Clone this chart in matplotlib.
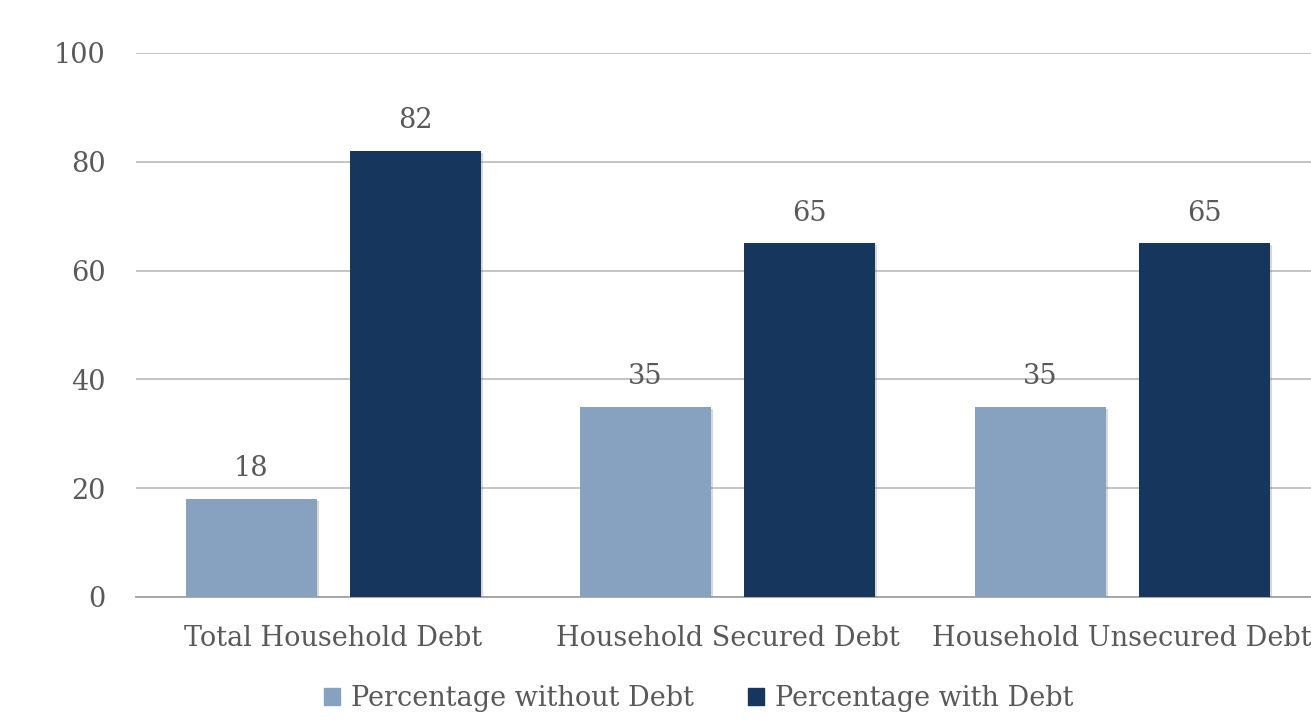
import numpy as np
import matplotlib.pyplot as plt
from matplotlib import patheffects as pe
from matplotlib.patches import Patch

categories = ['Total Household Debt', 'Household Secured Debt', 'Household Unsecured Debt']
without_debt = [18, 35, 35]
with_debt = [82, 65, 65]
series_names = ['Percentage without Debt', 'Percentage with Debt']
yticks = [0, 20, 40, 60, 80, 100]

light = '#87a2c1'
dark = '#17365d'
text_col = '#595959'
grid_col = '#c4c4c4'
fs = 19.5

plt.rcParams['font.family'] = ['DejaVu Serif']

fig = plt.figure(figsize=(13.11, 7.19), dpi=100)
ax = fig.add_axes([0.1037, 0.1697, 0.9027, 0.7566])

x = np.arange(len(categories))
w = 0.332
off = 0.208
shadow = [pe.SimplePatchShadow(offset=(1.5, -1.5), shadow_rgbFace='#808080', alpha=0.3), pe.Normal()]

b1 = ax.bar(x - off, without_debt, w, color=light, zorder=3)
b2 = ax.bar(x + off, with_debt, w, color=dark, zorder=3)
for bars in (b1, b2):
    for p in bars:
        p.set_path_effects(shadow)
    ax.bar_label(bars, padding=12, fontsize=fs, color=text_col)

ax.set_xlim(-0.5, len(categories) - 0.5)
ax.set_ylim(0, 100)
ax.set_yticks(yticks)
ax.set_xticks(x)
ax.set_xticklabels(categories)
ax.yaxis.grid(True, color=grid_col, linewidth=1.4, zorder=0)
ax.tick_params(axis='both', length=0, labelsize=fs, colors=text_col)
ax.tick_params(axis='y', pad=22)
ax.tick_params(axis='x', pad=20)
for s in ['top', 'right', 'left']:
    ax.spines[s].set_visible(False)
ax.spines['bottom'].set_color('#a6a6a6')
ax.spines['bottom'].set_linewidth(1.4)

handles = [Patch(color=light, label=series_names[0]), Patch(color=dark, label=series_names[1])]
fig.legend(handles=handles, loc='center', bbox_to_anchor=(0.533, 0.029), ncol=2,
           frameon=False, fontsize=fs, labelcolor=text_col, handlelength=0.6,
           handleheight=0.6, handletextpad=0.4, columnspacing=2.0)

fig.savefig('out.png', dpi=100)
